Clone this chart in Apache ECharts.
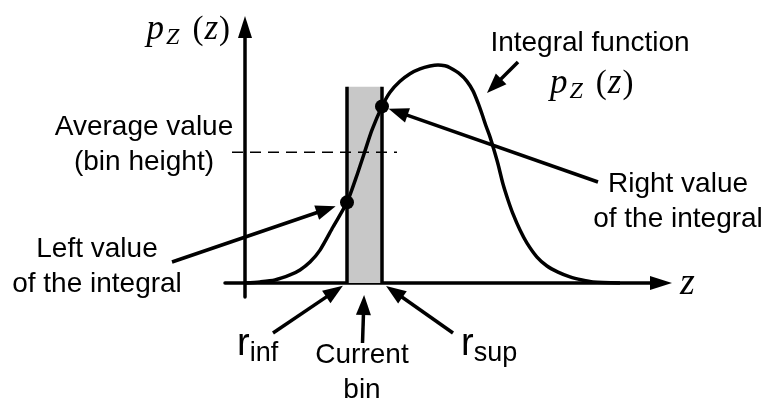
<!DOCTYPE html>
<html>
<head>
<meta charset="utf-8">
<script src="https://cdn.jsdelivr.net/npm/echarts@6/dist/echarts.min.js"></script>
<style>
html, body { margin: 0; background: #fff; }
#chart { width: 767px; height: 409px; }
</style>
</head>
<body>
<div id="chart"></div>
<script>
// density curve p_Z(z)
var zValues = [0, 0.3, 0.6, 0.9, 1.1, 1.3, 1.5, 1.76, 2.04, 2.22, 2.38, 2.54, 2.74, 2.9, 3.1, 3.3, 3.5, 3.7, 3.86,
	4.0, 4.1, 4.3, 4.44, 4.56, 4.66, 4.74, 4.82, 4.9, 4.98, 5.06, 5.16, 5.26, 5.36, 5.5, 5.64, 5.84, 6.04,
	6.26, 6.5, 6.74, 6.96, 7.5];
var pValues = [0, 0.005, 0.014, 0.037, 0.06, 0.096, 0.151, 0.257, 0.37, 0.482, 0.592, 0.702, 0.81, 0.875, 0.925, 0.96, 0.982, 0.995, 1.0,
	0.996, 0.987, 0.958, 0.925, 0.881, 0.826, 0.775, 0.72, 0.67, 0.61, 0.546, 0.454, 0.381, 0.317, 0.243, 0.183, 0.119, 0.078,
	0.05, 0.028, 0.014, 0.005, 0];

// current bin and its integral values
var binEdges = [2.04, 2.74];
var binHeight = 0.9;
var edgeValues = [0.37, 0.81];
var averageValue = 0.6;
var averageSpan = [-0.26, 3.04];

var BLACK = '#000';
var SANS = 'Liberation Sans';
var SERIF = 'Liberation Serif';

var curve = zValues.map(function (z, i) { return [z, pValues[i]]; });
var dots = binEdges.map(function (z, i) { return [z, edgeValues[i]]; });

var chart = echarts.init(document.getElementById('chart'));

var axisLine = {
	onZero: true,
	symbol: ['none', 'triangle'],
	symbolSize: [14, 22],
	lineStyle: { color: BLACK, width: 3.5 }
};

chart.setOption({
	animation: false,
	grid: { left: 225, right: 106, top: 27, bottom: 112 },
	xAxis: {
		type: 'value', min: -0.4, max: 8.32,
		axisLine: axisLine, axisTick: { show: false }, axisLabel: { show: false }, splitLine: { show: false }
	},
	yAxis: {
		type: 'value', min: -0.064, max: 1.174,
		axisLine: axisLine, axisTick: { show: false }, axisLabel: { show: false }, splitLine: { show: false }
	},
	series: [
		{
			type: 'custom',
			data: [[binEdges[0], binEdges[1], binHeight]],
			encode: { x: [0, 1], y: 2 },
			renderItem: function (params, api) {
				var a = api.coord([api.value(0), 0]);
				var b = api.coord([api.value(1), api.value(2)]);
				var edge = { stroke: BLACK, lineWidth: 3.5 };
				return {
					type: 'group',
					children: [
						{ type: 'rect', shape: { x: a[0], y: b[1], width: b[0] - a[0], height: a[1] - b[1] }, style: { fill: '#c8c8c8' } },
						{ type: 'line', shape: { x1: a[0], y1: a[1], x2: a[0], y2: b[1] }, style: edge },
						{ type: 'line', shape: { x1: b[0], y1: a[1], x2: b[0], y2: b[1] }, style: edge }
					]
				};
			}
		},
		{
			type: 'line',
			data: [[averageSpan[0], averageValue], [averageSpan[1], averageValue]],
			symbol: 'none',
			lineStyle: { color: BLACK, width: 1.5, type: [11, 7] }
		},
		{
			type: 'line',
			data: curve,
			smooth: 0.25,
			symbol: 'none',
			lineStyle: { color: BLACK, width: 3.5 }
		},
		{
			type: 'scatter',
			data: dots,
			symbolSize: 14,
			itemStyle: { color: BLACK, opacity: 1 }
		}
	]
});

function px(pt) { return chart.convertToPixel({ gridIndex: 0 }, pt); }

function arrow(x1, y1, x2, y2) {
	var dx = x2 - x1, dy = y2 - y1;
	var len = Math.sqrt(dx * dx + dy * dy);
	var ux = dx / len, uy = dy / len;
	var hl = 20, hw = 7.5;
	var bx = x2 - ux * hl, by = y2 - uy * hl;
	return [
		{ type: 'line', shape: { x1: x1, y1: y1, x2: bx + ux * 2, y2: by + uy * 2 }, style: { stroke: BLACK, lineWidth: 3.5 } },
		{ type: 'polygon', shape: { points: [[x2, y2], [bx - uy * hw, by + ux * hw], [bx + uy * hw, by - ux * hw]] }, style: { fill: BLACK } }
	];
}

// arrow from a tail point to a data point, stopping gap px before it
function arrowTo(tail, target, gap) {
	var dx = tail[0] - target[0], dy = tail[1] - target[1];
	var len = Math.sqrt(dx * dx + dy * dy);
	return arrow(tail[0], tail[1], target[0] + dx / len * gap, target[1] + dy / len * gap);
}

function label(text, x, y, align) {
	return {
		type: 'text', x: x, y: y,
		style: { text: text, fill: BLACK, font: '28px "' + SANS + '"', align: align || 'center', verticalAlign: 'middle', lineHeight: 35 }
	};
}

var mathRich = {
	i: { fontFamily: SERIF, fontStyle: 'italic', fontSize: 35, lineHeight: 40, color: BLACK },
	s: { fontFamily: SERIF, fontStyle: 'italic', fontSize: 24, lineHeight: 24, verticalAlign: 'bottom', padding: [0, 12, 0, 2], color: BLACK },
	n: { fontFamily: SERIF, fontSize: 33, lineHeight: 40, color: BLACK, padding: [0, 1, 0, 1] }
};
function mathLabel(x, y, align) {
	return {
		type: 'text', x: x, y: y,
		style: { text: '{i|p}{s|Z}{n|(}{i|z}{n|)}', rich: mathRich, align: align, verticalAlign: 'middle' }
	};
}

var rRich = {
	r: { fontFamily: SANS, fontSize: 38, lineHeight: 44, color: BLACK },
	s: { fontFamily: SANS, fontSize: 27, lineHeight: 24, verticalAlign: 'bottom', color: BLACK }
};

var leftDot = px(dots[0]);
var rightDot = px(dots[1]);
var binLo = px([binEdges[0], 0]);
var binHi = px([binEdges[1], 0]);
var binMid = px([(binEdges[0] + binEdges[1]) / 2, 0]);

var elements = [
	mathLabel(231, 30, 'right'),
	mathLabel(550, 84, 'left'),
	{ type: 'text', x: 680, y: 284, style: { text: 'z', fill: BLACK, font: 'italic 38px "' + SERIF + '"', align: 'left', verticalAlign: 'middle' } },
	label('Integral function', 590, 43),
	label('Average value\n(bin height)', 144, 145),
	label('Right value\nof the integral', 678, 202),
	label('Left value\nof the integral', 97, 267),
	label('Current\nbin', 362, 373),
	{ type: 'text', x: 237, y: 345, style: { text: '{r|r}{s|inf}', rich: rRich, align: 'left', verticalAlign: 'middle' } },
	{ type: 'text', x: 461, y: 345, style: { text: '{r|r}{s|sup}', rich: rRich, align: 'left', verticalAlign: 'middle' } }
];
elements = elements
	.concat(arrow(518, 62, 487, 93))
	.concat(arrowTo([598, 182], rightDot, 7))
	.concat(arrowTo([172, 262], leftDot, 12))
	.concat(arrowTo([273, 333], binLo, 5))
	.concat(arrowTo([binMid[0] - 2, 343], binMid, 12))
	.concat(arrowTo([453, 333], binHi, 5));

chart.setOption({ graphic: { elements: elements } });
</script>
</body>
</html>
